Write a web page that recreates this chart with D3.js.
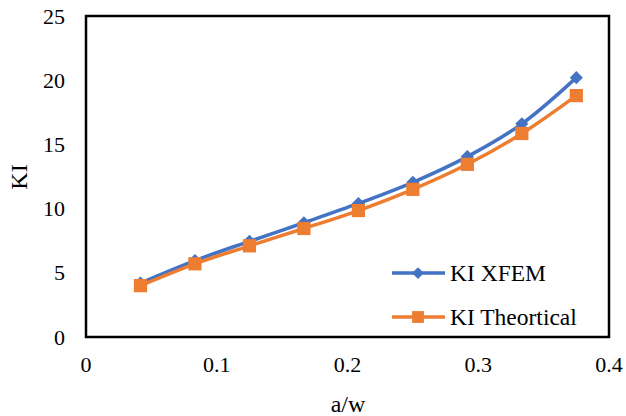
<!DOCTYPE html>
<html><head><meta charset="utf-8">
<script src="https://cdn.jsdelivr.net/npm/d3@7"></script>
<style>body{margin:0;background:#fff}svg{display:block}</style>
</head><body>
<script>
const aw = [1/24, 2/24, 3/24, 4/24, 5/24, 6/24, 7/24, 8/24, 9/24];
const kiXfem = [4.2, 5.95, 7.45, 8.9, 10.4, 12.05, 14.05, 16.6, 20.2];
const kiTheory = [4.0, 5.7, 7.1, 8.45, 9.85, 11.5, 13.45, 15.85, 18.8];
const xTicks = [0, 0.1, 0.2, 0.3, 0.4];
const yTicks = [0, 5, 10, 15, 20, 25];
const seriesNames = ["KI XFEM", "KI Theortical"];
const colors = ["#4472C4", "#ED7D31"];

const FONT = "Times New Roman, Liberation Serif, Times, serif";
const W = 626, H = 416;
const svg = d3.select("body").append("svg").attr("width", W).attr("height", H)
  .style("font-family", FONT);
const x = d3.scaleLinear().domain([0, 0.4]).range([86, 609]);
const y = d3.scaleLinear().domain([0, 25]).range([337, 16]);

svg.append("rect").attr("x", x(0)).attr("y", y(25)).attr("width", x(0.4) - x(0)).attr("height", y(0) - y(25))
  .attr("fill", "none").attr("stroke", "#000").attr("stroke-width", 2.5);

svg.append("g").selectAll("text").data(yTicks).join("text")
  .attr("x", 65).attr("y", d => y(d) + 7.5).attr("text-anchor", "end")
  .style("font-family", FONT).attr("font-size", 22).text(d => d);
svg.append("g").selectAll("text").data(xTicks).join("text")
  .attr("x", d => x(d)).attr("y", 372).attr("text-anchor", "middle")
  .style("font-family", FONT).attr("font-size", 22).text(d => d);

svg.append("text").attr("x", 348).attr("y", 412).attr("text-anchor", "middle")
  .style("font-family", FONT).attr("font-size", 24).text("a/w");
svg.append("text").attr("transform", "translate(27,177) rotate(-90)")
  .attr("text-anchor", "middle").style("font-family", FONT).attr("font-size", 24).text("KI");

const line = d3.line().x(d => x(d[0])).y(d => y(d[1])).curve(d3.curveCatmullRom.alpha(0.5));
const series = [kiXfem, kiTheory];
const markerSyms = [d3.symbolDiamond2, d3.symbolSquare];
const markerSize = [110, 175];

series.forEach((vals, i) => {
  const pts = aw.map((a, j) => [a, vals[j]]);
  svg.append("path").datum(pts).attr("d", line).attr("fill", "none")
    .attr("stroke", colors[i]).attr("stroke-width", 3.5).attr("stroke-linejoin", "round");
  svg.append("g").selectAll("path").data(pts).join("path")
    .attr("transform", d => `translate(${x(d[0])},${y(d[1])})`)
    .attr("d", d3.symbol(markerSyms[i], markerSize[i])).attr("fill", colors[i]);
});

const leg = svg.append("g");
seriesNames.forEach((n, i) => {
  const ly = 273 + i * 44;
  leg.append("line").attr("x1", 392).attr("x2", 445).attr("y1", ly).attr("y2", ly)
    .attr("stroke", colors[i]).attr("stroke-width", 3.5);
  leg.append("path").attr("transform", `translate(418,${ly})`)
    .attr("d", d3.symbol(markerSyms[i], markerSize[i] * 0.8)).attr("fill", colors[i]);
  leg.append("text").attr("x", 450).attr("y", ly + 8).attr("font-size", 23.5)
    .style("font-family", FONT).text(n);
});
</script>
</body></html>
